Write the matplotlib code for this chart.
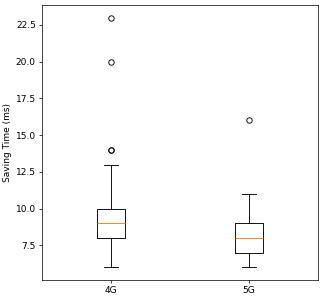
import matplotlib
matplotlib.use('Agg')
import matplotlib.pyplot as plt

labels = ['4G', '5G']
whisker_low = [6, 6]
q1 = [8, 7]
median = [9, 8]
q3 = [10, 9]
whisker_high = [13, 11]
outliers = [[14, 14, 20, 23], [16]]

stats = []
for i in range(len(labels)):
    stats.append({
        'label': labels[i],
        'whislo': whisker_low[i],
        'q1': q1[i],
        'med': median[i],
        'q3': q3[i],
        'whishi': whisker_high[i],
        'fliers': outliers[i],
    })

dpi = 65
fig, ax = plt.subplots(figsize=(324 / dpi, 300 / dpi), dpi=dpi)
ax.bxp(stats, widths=0.2)
ax.set_xlim(0.5, 2.5)
ax.set_ylabel('Saving Time (ms)')
fig.subplots_adjust(left=0.13, right=0.982, top=0.983, bottom=0.067)
fig.savefig('out.png', dpi=dpi)
